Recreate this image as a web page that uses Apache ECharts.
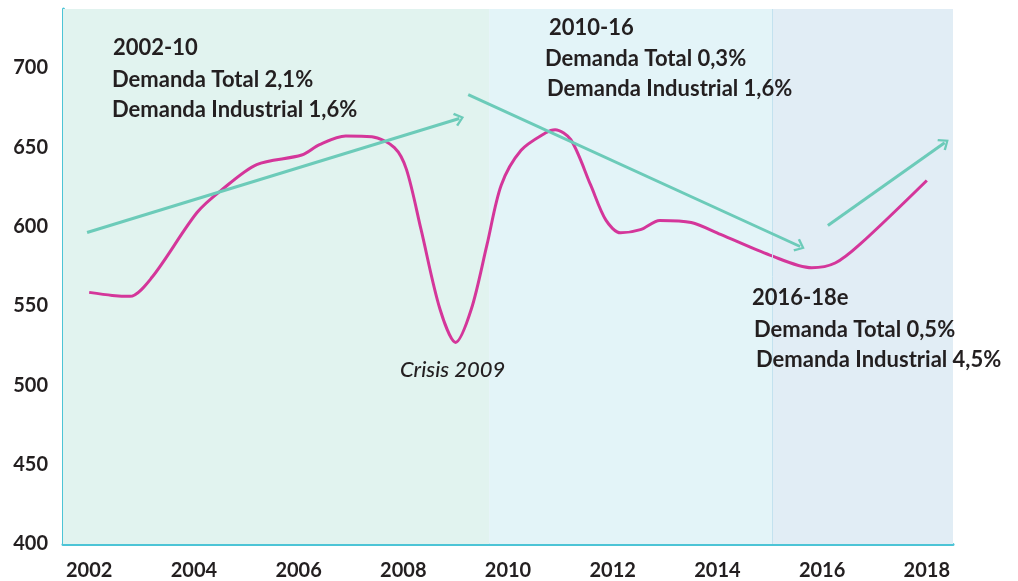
<!DOCTYPE html>
<html>
<head>
<meta charset="utf-8">
<script src="https://cdn.jsdelivr.net/npm/echarts@6/dist/echarts.min.js"></script>
<style>
  html, body { margin: 0; padding: 0; background: #fff; }
  #chart { width: 1018px; height: 581px; }
</style>
</head>
<body>
<div id="chart"></div>
<script>
// demanda - puntos
var xs = [2002.0, 2002.44, 2002.78, 2003.2, 2004.06, 2004.53, 2005.2, 2006.06, 2006.4, 2006.9,
          2007.4, 2007.83, 2008.06, 2008.34, 2008.7, 2009.0, 2009.3, 2009.6, 2009.87, 2010.25,
          2010.72, 2010.9, 2011.2, 2011.58, 2011.87, 2012.15, 2012.53, 2012.9, 2013.5, 2014.06,
          2015.0, 2015.8, 2016.25, 2016.72, 2018.0];
var demanda = [558.5, 556.6, 556, 568, 608.8, 623, 639, 645, 651.6, 657,
               656.6, 649.7, 636, 598, 548, 527, 548, 588.7, 626, 648,
               659, 661, 654.7, 626, 604, 596, 598, 603.8, 602.5, 595,
               582, 574, 577, 588.7, 629];

// flechas de tendencia [x0, y0, x1, y1]
var arrows = [
  [2001.96, 596.2, 2009.07, 668],
  [2009.24, 683, 2015.58, 587.4],
  [2016.11, 600.6, 2018.34, 652.8]
];

// periodos (fondo)
var periods = [[2001.5, 2009.64], [2009.64, 2015.05], [2015.05, 2018.5]];
var periodColors = ['#e1f3ef', '#e3f4f8', '#e1edf5'];

var yTicks = [400, 450, 500, 550, 600, 650, 700];

var font = 'Lato';
var txt = '#231f20';

var lineData = xs.map(function (x, i) { return [x, demanda[i]]; });

var chevron = 'path://M8,0 L16,10 L14,12 L8,4 L2,12 L0,10 Z';

function note(text, left, top, style) {
  return {
    type: 'text', left: left, top: top, z: 100,
    style: { text: text, font: style || 'bold 22px Lato', fill: txt }
  };
}

var option = {
  animation: false,
  grid: { left: 63, right: 65, top: 9, bottom: 36 },
  xAxis: {
    type: 'value',
    min: 2001.5,
    max: 2018.5,
    interval: 0.5,
    axisLine: { show: true, lineStyle: { color: '#4cc4d6', width: 3 } },
    axisTick: { show: false },
    splitLine: { show: false },
    axisLabel: {
      margin: 17,
      color: txt,
      fontFamily: font,
      fontWeight: 'bold',
      fontSize: 20,
      formatter: function (v) { return (v % 2 === 0) ? String(v) : ''; }
    }
  },
  yAxis: {
    type: 'value',
    min: yTicks[0],
    max: 737,
    interval: 50,
    axisLine: { show: true, lineStyle: { color: '#4cc4d6', width: 3 } },
    axisTick: { show: false },
    splitLine: { show: false },
    axisLabel: {
      margin: 15,
      showMaxLabel: false,
      color: txt,
      fontFamily: font,
      fontWeight: 'bold',
      fontSize: 20
    }
  },
  series: [
    {
      type: 'line',
      data: lineData,
      smooth: 0.3,
      symbol: 'none',
      lineStyle: { color: '#d4369a', width: 3 },
      z: 3,
      markArea: {
        silent: true,
        data: periods.map(function (p, i) {
          return [{ xAxis: p[0], itemStyle: { color: periodColors[i] } }, { xAxis: p[1] }];
        })
      }
    },
    {
      type: 'line',
      data: [],
      markLine: {
        silent: true,
        symbol: 'none',
        label: { show: false },
        lineStyle: { color: '#c3e2ef', width: 1, type: 'solid' },
        data: [{ xAxis: periods[1][1] }]
      }
    },
    {
      type: 'line',
      data: [],
      z: 4,
      markLine: {
        silent: true,
        symbol: ['none', chevron],
        symbolSize: [14, 10],
        label: { show: false },
        lineStyle: { color: '#6ccbb9', width: 3, type: 'solid' },
        itemStyle: { color: '#6ccbb9' },
        data: arrows.map(function (a) {
          return [{ coord: [a[0], a[1]] }, { coord: [a[2], a[3]] }];
        })
      }
    }
  ],
  graphic: [
    note('2002-10', 113, 37),
    note('Demanda Total 2,1%', 112, 69),
    note('Demanda Industrial 1,6%', 112, 99),
    note('2010-16', 549, 17),
    note('Demanda Total 0,3%', 545, 48),
    note('Demanda Industrial 1,6%', 547, 78),
    note('2016-18e', 752, 287),
    note('Demanda Total 0,5%', 754, 319),
    note('Demanda Industrial 4,5%', 756, 349),
    note('Crisis 2009', 400, 359, 'italic 500 22px Lato')
  ]
};

var myChart = echarts.init(document.getElementById('chart'));
myChart.setOption(option);
</script>
</body>
</html>
